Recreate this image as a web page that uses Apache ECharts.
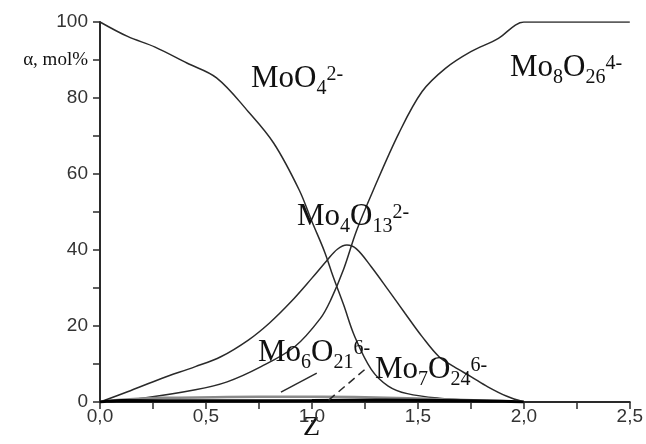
<!DOCTYPE html>
<html>
<head>
<meta charset="utf-8">
<script src="https://cdn.jsdelivr.net/npm/echarts@6/dist/echarts.min.js"></script>
<style>html,body{margin:0;padding:0;background:#fff;}#c{width:646px;height:444px;}</style>
</head>
<body>
<div id="c"></div>
<script>
// X axis (Z) range and ticks
const xTicks = [0, 0.5, 1.0, 1.5, 2.0, 2.5];
const yTicks = [0, 20, 40, 60, 80, 100];

// MoO4 2-
const zMoO4 = [0, 0.13, 0.26, 0.41, 0.55, 0.70, 0.82, 0.94, 1.00, 1.06, 1.10, 1.15, 1.20, 1.28, 1.36, 1.45, 1.60, 1.80, 2.00];
const vMoO4 = [100, 96.2, 93.4, 89.2, 85.3, 76.4, 68.1, 55.8, 47.5, 39.5, 33.0, 25.5, 17.5, 8.6, 4.2, 2.2, 1.0, 0.3, 0];

// Mo4O13 2-
const zMo4O13 = [0, 0.13, 0.29, 0.45, 0.57, 0.70, 0.80, 0.90, 1.00, 1.07, 1.12, 1.165, 1.21, 1.28, 1.36, 1.44, 1.52, 1.60, 1.67, 1.75, 1.83, 1.92, 2.00];
const vMo4O13 = [0, 2.7, 6.2, 9.3, 11.9, 16.3, 20.8, 26.3, 32.6, 37.2, 40.2, 41.3, 40.3, 35.6, 29.5, 23.3, 17.2, 11.9, 9.3, 6.7, 4.0, 1.5, 0];

// Mo8O26 4-
const zMo8O26 = [0, 0.20, 0.45, 0.60, 0.76, 0.92, 1.04, 1.09, 1.15, 1.21, 1.29, 1.41, 1.52, 1.63, 1.75, 1.88, 1.96, 2.00, 2.50];
const vMo8O26 = [0, 1.0, 3.2, 5.3, 9.3, 14.6, 22.0, 27.0, 35.0, 45.0, 55.8, 70.7, 81.7, 87.8, 92.2, 95.7, 99.2, 100, 100];

// Mo6O21 6-
const zMo6O21 = [0, 0.10, 0.30, 0.60, 0.90, 1.20, 1.50, 1.80, 2.00];
const vMo6O21 = [0, 0.6, 1.1, 1.3, 1.4, 1.3, 0.9, 0.4, 0];

// Mo7O24 6-
const zMo7O24 = [0, 0.10, 0.50, 1.00, 1.30, 1.60, 1.90, 2.00];
const vMo7O24 = [0, 0.4, 0.3, 0.4, 0.5, 0.4, 0.2, 0];

// leader lines (label -> curve)
const leaderMo6 = [[0.854, 2.6], [1.023, 7.6]];
const leaderMo7 = [[1.079, 0.5], [1.257, 8.9]];

function zip(zs, vs) { return zs.map((z, i) => [z, vs[i]]); }

const serif = '"Liberation Serif", "DejaVu Serif", serif';
const sans = '"Liberation Sans", Arial, sans-serif';
const ink = '#2a2a2a';

const rich = {
  m: { fontFamily: serif, fontSize: 31, lineHeight: 40, verticalAlign: 'middle', fill: '#111' },
  s: { fontFamily: serif, fontSize: 20, lineHeight: 20, verticalAlign: 'bottom', fill: '#111' },
  p: { fontFamily: serif, fontSize: 20, lineHeight: 20, verticalAlign: 'top', padding: [6, 0, 0, 0], fill: '#111' }
};
function label(text, left, top) {
  return { type: 'text', left: left, top: top, z: 10, style: { text: text, rich: rich } };
}

const chart = echarts.init(document.getElementById('c'), null, { renderer: 'canvas' });
const lineStyle = { color: ink, width: 1.5 };
chart.setOption({
  animation: false,
  backgroundColor: '#fff',
  grid: { left: 100, right: 13, top: 22, bottom: 42, containLabel: false },
  xAxis: {
    type: 'value', min: 0, max: 2.5, interval: 0.5,
    axisLine: { show: true, lineStyle: { color: ink, width: 2 } },
    axisTick: { show: true, length: 7, lineStyle: { color: ink, width: 1.5 } },
    minorTick: { show: true, splitNumber: 2, length: 7, lineStyle: { color: ink, width: 1.5 } },
    splitLine: { show: false },
    axisLabel: { margin: 5, fontFamily: sans, fontSize: 19, color: '#333',
      formatter: v => v.toFixed(1).replace('.', ',') }
  },
  yAxis: {
    type: 'value', min: 0, max: 100, interval: 20,
    axisLine: { show: true, lineStyle: { color: ink, width: 2 } },
    axisTick: { show: true, length: 7, lineStyle: { color: ink, width: 1.5 } },
    minorTick: { show: true, splitNumber: 2, length: 7, lineStyle: { color: ink, width: 1.5 } },
    splitLine: { show: false },
    axisLabel: { margin: 12, fontFamily: sans, fontSize: 19, color: '#333' }
  },
  series: [
    { name: 'MoO4', type: 'line', data: zip(zMoO4, vMoO4), showSymbol: false, smooth: 0.35, lineStyle: lineStyle },
    { name: 'Mo4O13', type: 'line', data: zip(zMo4O13, vMo4O13), showSymbol: false, smooth: 0.35, lineStyle: lineStyle },
    { name: 'Mo8O26', type: 'line', data: zip(zMo8O26, vMo8O26), showSymbol: false, smooth: 0.35, lineStyle: lineStyle },
    { name: 'Mo6O21', type: 'line', data: zip(zMo6O21, vMo6O21), showSymbol: false, smooth: 0.3, lineStyle: { color: '#8a8a8a', width: 2.5 } },
    { name: 'Mo7O24', type: 'line', data: zip(zMo7O24, vMo7O24), showSymbol: false, smooth: 0.3, lineStyle: { color: '#000', width: 3 } },
    { name: 'lead6', type: 'line', data: leaderMo6, showSymbol: false, lineStyle: { color: ink, width: 1.5 } },
    { name: 'lead7', type: 'line', data: leaderMo7, showSymbol: false, lineStyle: { color: ink, width: 1.5, type: [8, 5] } }
  ],
  graphic: [
    { type: 'text', right: 646 - 88, top: 51, style: { text: 'α, mol%', fontFamily: serif, fontSize: 19, fill: '#111' } },
    { type: 'text', left: 303, top: 414, style: { text: 'Z', fontFamily: serif, fontSize: 28, fill: '#111' } },
    label('{m|MoO}{s|4}{p|2-}', 251, 59),
    label('{m|Mo}{s|8}{m|O}{s|26}{p|4-}', 510, 48),
    label('{m|Mo}{s|4}{m|O}{s|13}{p|2-}', 297, 197),
    label('{m|Mo}{s|6}{m|O}{s|21}{p|6-}', 258, 333),
    label('{m|Mo}{s|7}{m|O}{s|24}{p|6-}', 375, 350)
  ]
});
</script>
</body>
</html>
